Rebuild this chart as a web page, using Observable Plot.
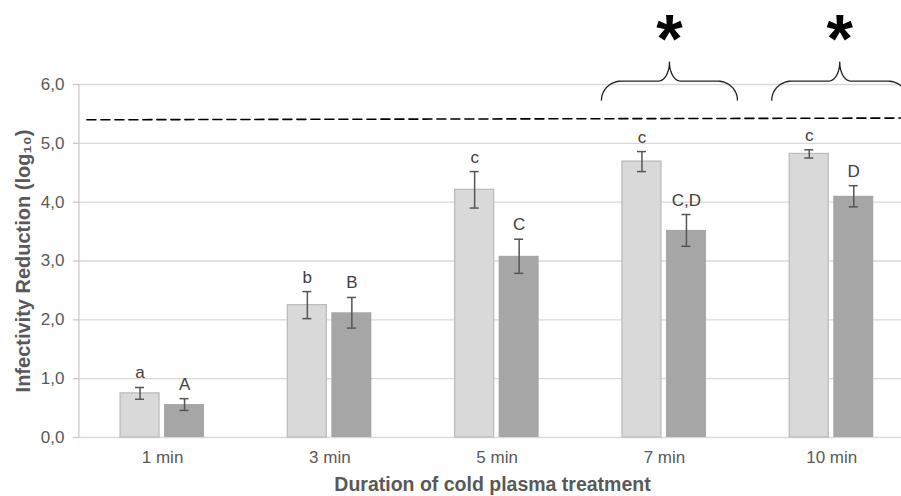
<!DOCTYPE html>
<html>
<head>
<meta charset="utf-8">
<script src="https://cdn.jsdelivr.net/npm/d3@7"></script>
<script src="https://cdn.jsdelivr.net/npm/@observablehq/plot@0.6"></script>
<style>
  html, body { margin: 0; padding: 0; background: #fff; }
</style>
</head>
<body>
<div id="chart"></div>
<script>
// ---- data ----
const durations = ["1 min", "3 min", "5 min", "7 min", "10 min"];
const lightMeans = [0.75, 2.25, 4.21, 4.69, 4.82];
const lightErrors = [0.10, 0.23, 0.31, 0.17, 0.07];
const lightLetters = ["a", "b", "c", "c", "c"];
const darkMeans = [0.56, 2.12, 3.08, 3.52, 4.10];
const darkErrors = [0.10, 0.26, 0.29, 0.27, 0.18];
const darkLetters = ["A", "B", "C", "C,D", "D"];
const yTicks = [0, 1, 2, 3, 4, 5, 6];
const limitLevels = [5.40, 5.43];          // dashed line (left, right)
const significantGroups = ["7 min", "10 min"];
const xTitle = "Duration of cold plasma treatment";
const yTitle = "Infectivity Reduction (log\u2081\u2080)";

// ---- layout helpers ----
const W = 901, H = 496;
const left = 78.4, step = 167.3;
const pxX = 1 / step;                      // data units per pixel (x)
const mT = 84, mB = 59;
const pxY = 6 / (H - mT - mB);             // data units per pixel (y)

const lightOff = -22.5 * pxX, darkOff = 22 * pxX;
const capHalf = 4.5 * pxX;

const rows = (means, errs, letters, off) =>
  durations.map((d, i) => ({i, x: i + off, v: means[i], e: errs[i], l: letters[i]}));
const light = rows(lightMeans, lightErrors, lightLetters, lightOff);
const dark = rows(darkMeans, darkErrors, darkLetters, darkOff);
const caps = [...light, ...dark].flatMap(d => [{x: d.x, y: d.v - d.e}, {x: d.x, y: d.v + d.e}]);

const xDomain = [-0.5, durations.length - 0.5];
const limitLine = [
  {x: xDomain[0] + 8 * pxX, y: limitLevels[0]},
  {x: xDomain[1], y: limitLevels[1]}
];

// braces above significant groups
const braceBase = 5.735, braceMid = braceBase + 19 * pxY, braceTip = braceMid + 19 * pxY;
const half = 68 * pxX, rx1 = 20 * pxX, rx2 = 11 * pxX;
const braceOf = (g) => {
  const cx = durations.indexOf(g) + 5 * pxX + (g === "10 min" ? 3 * pxX : 0);
  const pts = [];
  const n = 12;
  for (let k = 0; k <= n; k++) { const t = k / n * Math.PI / 2;
    pts.push({g, x: cx - half + rx1 * (1 - Math.cos(t)), y: braceBase + (braceMid - braceBase) * Math.sin(t)}); }
  for (let k = 0; k <= n; k++) { const t = k / n * Math.PI / 2;
    pts.push({g, x: cx - rx2 + rx2 * Math.sin(t), y: braceMid + (braceTip - braceMid) * (1 - Math.cos(t))}); }
  for (let k = n; k >= 0; k--) { const t = k / n * Math.PI / 2;
    pts.push({g, x: cx + rx2 - rx2 * Math.sin(t), y: braceMid + (braceTip - braceMid) * (1 - Math.cos(t))}); }
  for (let k = n; k >= 0; k--) { const t = k / n * Math.PI / 2;
    pts.push({g, x: cx + half - rx1 * (1 - Math.cos(t)), y: braceBase + (braceMid - braceBase) * Math.sin(t)}); }
  return {cx, pts};
};
const braces = significantGroups.map(braceOf);
const bracePts = braces.flatMap(b => b.pts);
const stars = braces.map(b => ({x: b.cx, y: braceTip}));

const font = "'Liberation Sans', Arial, sans-serif";
const textGray = "#595959";

const chart = Plot.plot({
  width: W,
  height: H,
  marginLeft: 79,
  marginRight: 0,
  marginTop: mT,
  marginBottom: mB,
  style: {fontFamily: font, background: "#fff", overflow: "visible"},
  x: {domain: xDomain, range: [left, left + step * durations.length], axis: null},
  y: {domain: [0, 6], axis: null},
  marks: [
    // grid
    Plot.ruleY(yTicks, {stroke: "#d9d9d9", strokeWidth: 1.3}),
    // y axis line and ticks
    Plot.ruleX([xDomain[0]], {y1: 0, y2: 6, stroke: "#c8c8c8", strokeWidth: 1.3}),
    Plot.axisY({ticks: yTicks, tickSize: 6, tickFormat: () => "", stroke: "#c8c8c8", strokeWidth: 1.3}),
    Plot.axisY({ticks: yTicks, tickSize: 0, tickPadding: 15, tickFormat: d => d.toFixed(1).replace(".", ","),
      fill: textGray, fontSize: 17, label: null}),
    // x axis labels
    Plot.axisX({ticks: d3.range(durations.length), tickFormat: i => durations[i], tickSize: 0, tickPadding: 13,
      fill: textGray, fontSize: 17, label: null}),
    // bars
    Plot.rectY(light, {x1: d => d.i - 42 * pxX, x2: d => d.i - 3 * pxX, y: "v", fill: "#d9d9d9", stroke: "#bdbdbd", strokeWidth: 1.3}),
    Plot.rectY(dark, {x1: d => d.i + 2 * pxX, x2: d => d.i + 42 * pxX, y: "v", fill: "#a6a6a6"}),
    // error bars
    Plot.ruleX([...light, ...dark], {x: "x", y1: d => d.v - d.e, y2: d => d.v + d.e, stroke: "#555", strokeWidth: 1.5}),
    Plot.ruleY(caps, {x1: d => d.x - capHalf, x2: d => d.x + capHalf, y: "y", stroke: "#555", strokeWidth: 1.5}),
    // letters
    Plot.text([...light, ...dark], {x: "x", y: d => d.v + d.e, text: "l", lineAnchor: "bottom", dy: -9,
      fontSize: 17, fill: "#404040"}),
    // dashed limit line
    Plot.line(limitLine, {x: "x", y: "y", stroke: "#000", strokeWidth: 1.6, strokeDasharray: "9,5"}),
    // braces and stars
    Plot.line(bracePts, {x: "x", y: "y", z: "g", stroke: "#222", strokeWidth: 1.3}),
    Plot.text(stars, {x: "x", y: "y", text: () => "*", fontSize: 68, fontWeight: "bold", fill: "#000",
      lineAnchor: "bottom", dy: 0}),
    // axis titles
    Plot.text([yTitle], {text: d => d, frameAnchor: "left", textAnchor: "middle", lineAnchor: "middle",
      rotate: -90, dx: -56, fontSize: 20, fontWeight: "bold", fill: textGray}),
    Plot.text([xTitle], {text: d => d, frameAnchor: "bottom", textAnchor: "middle", lineAnchor: "bottom",
      dy: 53, dx: 2, fontSize: 19.5, fontWeight: "bold", fill: textGray})
  ]
});
document.getElementById("chart").appendChild(chart);
</script>
</body>
</html>
